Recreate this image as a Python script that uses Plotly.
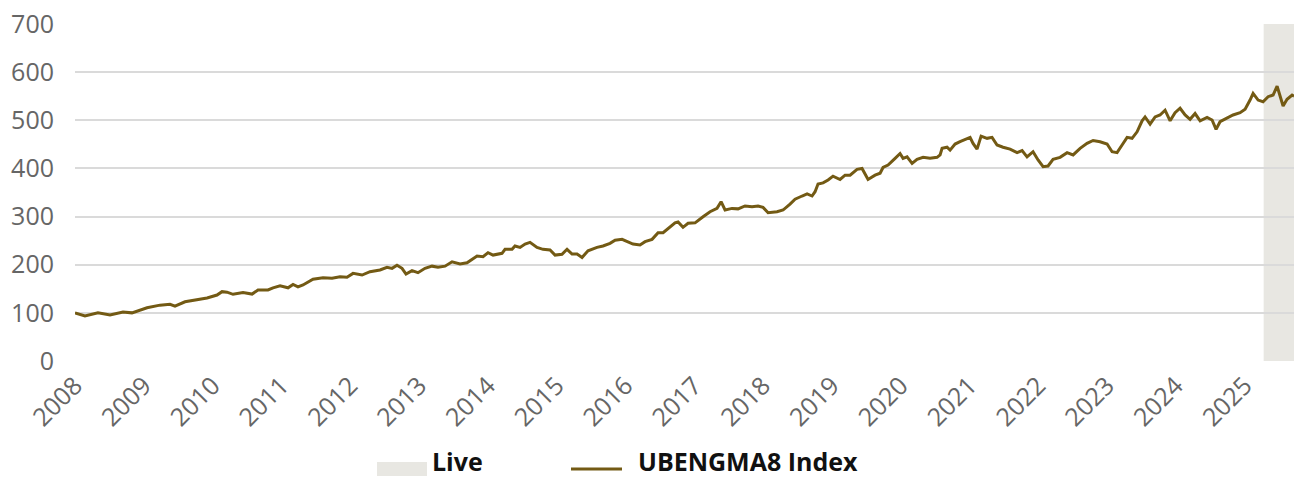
import pandas as pd
import plotly.graph_objects as go

# Index level, sampled along the history (years elapsed since 2008-01-01)
years_since_2008 = [
    0.000, 0.145, 0.334, 0.509, 0.698, 0.828, 1.047, 1.235, 1.381, 1.453,
    1.599, 1.817, 1.919, 2.064, 2.137, 2.209, 2.297, 2.442, 2.573, 2.660,
    2.805, 2.878, 2.980, 3.096, 3.169, 3.241, 3.314, 3.459, 3.605, 3.735,
    3.852, 3.953, 4.041, 4.172, 4.288, 4.433, 4.535, 4.608, 4.680, 4.753,
    4.811, 4.898, 4.985, 5.087, 5.189, 5.276, 5.378, 5.480, 5.596, 5.698,
    5.785, 5.843, 5.930, 6.003, 6.076, 6.206, 6.250, 6.352, 6.395, 6.468,
    6.541, 6.613, 6.715, 6.802, 6.904, 6.977, 7.078, 7.151, 7.224, 7.297,
    7.369, 7.456, 7.587, 7.674, 7.776, 7.849, 7.951, 8.038, 8.110, 8.212,
    8.285, 8.387, 8.474, 8.547, 8.648, 8.721, 8.765, 8.837, 8.910, 9.012,
    9.128, 9.230, 9.331, 9.390, 9.448, 9.549, 9.637, 9.738, 9.840, 9.927,
    10.000, 10.073, 10.203, 10.291, 10.392, 10.465, 10.567, 10.640, 10.712, 10.756,
    10.799, 10.872, 10.945, 11.017, 11.119, 11.192, 11.265, 11.366, 11.439, 11.526,
    11.628, 11.701, 11.744, 11.817, 11.919, 11.991, 12.035, 12.093, 12.166, 12.238,
    12.326, 12.427, 12.529, 12.573, 12.602, 12.674, 12.718, 12.791, 12.863, 12.965,
    13.009, 13.052, 13.110, 13.169, 13.256, 13.328, 13.401, 13.488, 13.590, 13.692,
    13.765, 13.837, 13.924, 13.997, 14.070, 14.142, 14.215, 14.317, 14.419, 14.506,
    14.608, 14.709, 14.797, 14.898, 15.000, 15.073, 15.145, 15.218, 15.291, 15.363,
    15.436, 15.509, 15.552, 15.625, 15.698, 15.770, 15.843, 15.916, 15.988, 16.061,
    16.134, 16.206, 16.279, 16.352, 16.453, 16.526, 16.584, 16.642, 16.744, 16.831,
    16.933, 17.006, 17.078, 17.122, 17.195, 17.267, 17.340, 17.413, 17.471, 17.515,
    17.558, 17.616, 17.689, 17.718,
]

index_values = [
    100, 93.5, 100, 95.5, 101.8, 100, 110.7, 116, 117.7, 114,
    123, 128, 131, 137, 144, 143, 138.5, 142, 139, 147.5,
    147.5, 152, 156, 152, 159, 154, 158, 170, 173, 171.7,
    175, 174, 182, 178.6, 185.5, 189, 194.6, 192.4, 199, 192.5,
    180.7, 187.6, 183.5, 192.5, 197, 194.6, 197, 206, 201.5, 204,
    213, 218, 216.6, 225, 220, 223.7, 232, 232, 239, 236,
    243, 246.5, 236, 232, 230.6, 220, 221.6, 232, 222, 222,
    215, 229, 236, 239, 244.5, 251, 252.7, 247.8, 243, 241,
    247.8, 252.7, 266.5, 266.5, 278, 287, 289, 277.7, 286, 287,
    299.7, 310, 317, 331, 313.6, 317, 316, 322, 320.5, 322,
    319, 308, 310, 313.6, 326, 336, 342.7, 347, 342.7, 351.7,
    367.6, 370, 376, 384, 377, 386, 386, 398, 400, 377,
    386, 390, 402, 407, 421, 431, 421, 424, 410.6, 419,
    423, 421, 423, 428, 441.7, 444, 438, 450.7, 455.5, 462.5,
    464.6, 452, 440, 467, 462.5, 464.6, 448.6, 444, 440, 432.7,
    437, 424, 434.7, 417.5, 403.6, 405, 419, 423, 432.7, 428,
    441.7, 452, 458, 455.5, 450.7, 434.7, 432.7, 448.6, 464.6, 462.5,
    476, 499, 507, 492, 507, 511, 521, 499, 515.7, 525,
    511, 502, 514, 499, 506, 500.6, 481, 497, 504, 511,
    515.7, 522.8, 542, 556, 542, 538.6, 549, 552.5, 571, 549,
    529.7, 543.5, 552.5, 550,
]

series_name = "UBENGMA8 Index"
live_name = "Live"
live_start = "2025-04-11"
x_start = "2008-01-01"
x_end = "2025-09-19"
y_ticks = [0, 100, 200, 300, 400, 500, 600, 700]

LINE_COLOR = "#735a14"
LIVE_COLOR = "#e8e7e2"
GRID_COLOR = "#dadada"
TICK_COLOR = "#666666"
FONT = "Open Sans, Noto Sans, sans-serif"

origin = pd.Timestamp(x_start)
dates = origin + pd.to_timedelta([t * 365.25 for t in years_since_2008], unit="D")

W, H = 1294, 479
M_L, M_R, M_T, M_B = 75, 0, 24, 118
PW, PH = W - M_L - M_R, H - M_T - M_B


def px_x(px):
    return (px - M_L) / PW


def px_y(py):
    return (H - M_B - py) / PH


fig = go.Figure()

fig.add_trace(go.Scatter(
    x=dates, y=index_values, mode="lines", name=series_name,
    line=dict(color=LINE_COLOR, width=3), showlegend=False,
))

# shaded live period
fig.add_shape(type="rect", xref="x", yref="paper",
              x0=live_start, x1=x_end, y0=0, y1=1,
              fillcolor=LIVE_COLOR, line=dict(width=0), layer="below")

# legend drawn below the axis
leg_y = px_y(469)
leg_text_y = px_y(479)
fig.add_shape(type="rect", xref="paper", yref="paper",
              x0=px_x(377), x1=px_x(427), y0=px_y(476), y1=px_y(462),
              fillcolor=LIVE_COLOR, line=dict(width=0))
fig.add_annotation(xref="paper", yref="paper", x=px_x(431), y=leg_text_y,
                   text=f"<b>{live_name}</b>", showarrow=False,
                   xanchor="left", yanchor="bottom", borderpad=0,
                   font=dict(family=FONT, size=25, color="#111111"))
fig.add_shape(type="line", xref="paper", yref="paper",
              x0=px_x(571), x1=px_x(622), y0=leg_y, y1=leg_y,
              line=dict(color=LINE_COLOR, width=3))
fig.add_annotation(xref="paper", yref="paper", x=px_x(637), y=leg_text_y,
                   text=f"<b>{series_name}</b>", showarrow=False,
                   xanchor="left", yanchor="bottom", borderpad=0,
                   font=dict(family=FONT, size=25, color="#111111"))

fig.update_layout(
    width=W, height=H,
    margin=dict(l=M_L, r=M_R, t=M_T, b=M_B, pad=0),
    paper_bgcolor="white", plot_bgcolor="rgba(0,0,0,0)",
    font=dict(family=FONT, color=TICK_COLOR),
    xaxis=dict(
        type="date", range=[x_start, x_end],
        dtick="M12", tick0=x_start, tickformat="%Y", tickangle=-45,
        showgrid=False, zeroline=False, showline=False, ticks="",
        tickfont=dict(family=FONT, size=25, color=TICK_COLOR),
        ticklabelstandoff=4,
    ),
    yaxis=dict(
        range=[0, 700], tickvals=y_ticks,
        showgrid=True, gridcolor=GRID_COLOR, gridwidth=2,
        zeroline=False, showline=False, ticks="",
        tickfont=dict(family=FONT, size=25, color=TICK_COLOR),
        ticklabelstandoff=20,
    ),
)

fig.write_html("out.html")
